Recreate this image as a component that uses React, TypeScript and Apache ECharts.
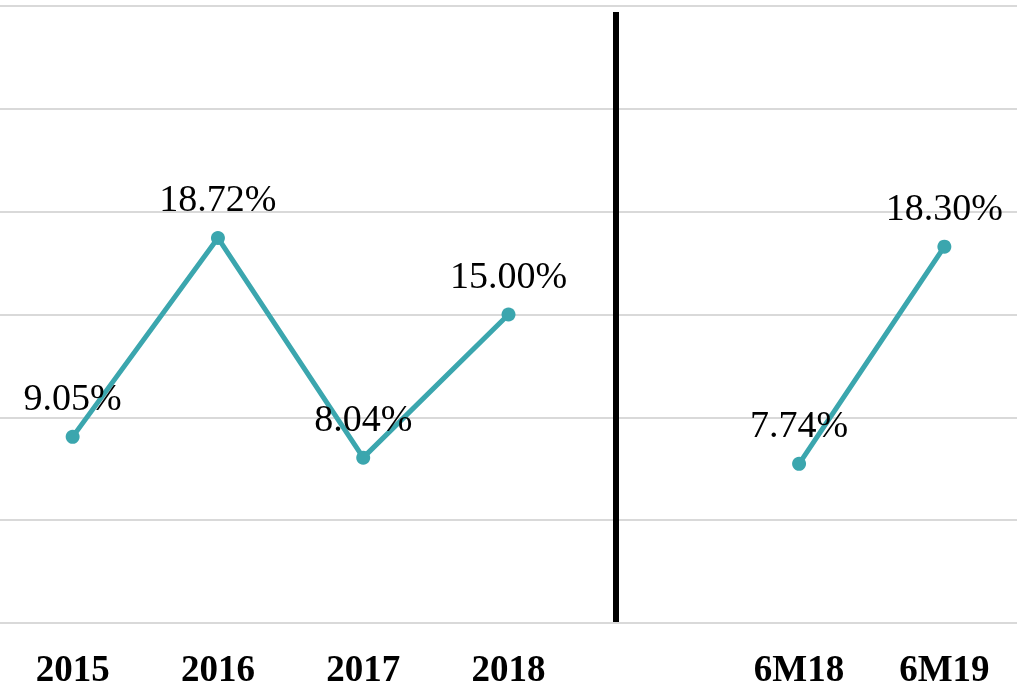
import React, { useEffect, useRef } from "react";
import * as echarts from "echarts";

const categories = ["2015", "2016", "2017", "2018", "", "6M18", "6M19"];
const values: (number | null)[] = [9.05, 18.72, 8.04, 15.0, null, 7.74, 18.3];
const yMin = 0;
const yMax = 30;
const yInterval = 5;

export default function App() {
  const ref = useRef<HTMLDivElement>(null);
  useEffect(() => {
    if (!ref.current) return;
    const chart = echarts.init(ref.current, null, { renderer: "svg" });
    chart.setOption({
      animation: false,
      grid: { left: 0, right: 1, top: 6, bottom: 69, containLabel: false },
      xAxis: {
        type: "category",
        data: categories,
        boundaryGap: true,
        axisLine: { show: false },
        axisTick: { show: false },
        axisLabel: {
          fontFamily: "Liberation Serif",
          fontWeight: "bold",
          fontSize: 37,
          color: "#000",
          margin: 27,
        },
      },
      yAxis: {
        type: "value",
        min: yMin,
        max: yMax,
        interval: yInterval,
        axisLabel: { show: false },
        axisLine: { show: false },
        axisTick: { show: false },
        splitLine: { lineStyle: { color: "#d9d9d9", width: 2 } },
      },
      series: [
        {
          type: "line",
          data: values,
          connectNulls: false,
          symbol: "circle",
          symbolSize: 14,
          itemStyle: { color: "#3BA6AE" },
          lineStyle: { color: "#3BA6AE", width: 5 },
          label: {
            show: true,
            position: "top",
            distance: 14,
            fontFamily: "Liberation Serif",
            fontSize: 38,
            color: "#000",
            formatter: (p: any) => p.value.toFixed(2) + "%",
          },
        },
      ],
      graphic: [
        {
          type: "line",
          z: 100,
          shape: { x1: 616, y1: 12, x2: 616, y2: 622 },
          style: { stroke: "#000", lineWidth: 6 },
        },
      ],
    });
    return () => chart.dispose();
  }, []);
  return (
    <div
      ref={ref}
      style={{ position: "fixed", left: 0, top: 0, width: 1018, height: 692 }}
    />
  );
}
